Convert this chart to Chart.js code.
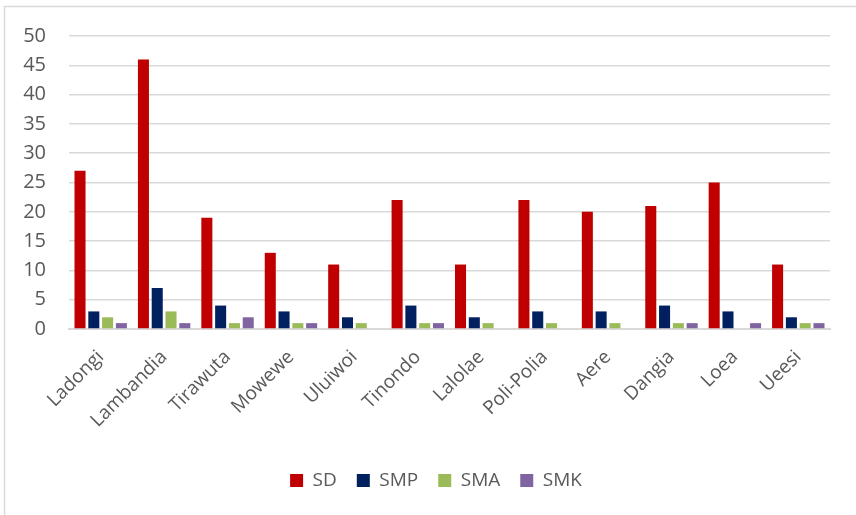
<!DOCTYPE html>
<html>
<head>
<meta charset="utf-8">
<script src="https://cdn.jsdelivr.net/npm/chart.js@4.4.1/dist/chart.umd.min.js"></script>
<style>
  html, body { margin: 0; padding: 0; background: #fff; overflow: hidden; }
  #wrap { position: relative; width: 856px; height: 515px; }
</style>
</head>
<body>
<div id="wrap"><canvas id="chart" width="856" height="515"></canvas></div>
<script>
  // Categories (districts) and series values
  var districts = ['Ladongi', 'Lambandia', 'Tirawuta', 'Mowewe', 'Uluiwoi', 'Tinondo',
    'Lalolae', 'Poli-Polia', 'Aere', 'Dangia', 'Loea', 'Ueesi'];
  var sdValues  = [27, 46, 19, 13, 11, 22, 11, 22, 20, 21, 25, 11];
  var smpValues = [3, 7, 4, 3, 2, 4, 2, 3, 3, 4, 3, 2];
  var smaValues = [2, 3, 1, 1, 1, 1, 1, 1, 1, 1, 0, 1];
  var smkValues = [1, 1, 2, 1, 0, 1, 0, 0, 0, 1, 1, 1];
  var yTicks = [0, 5, 10, 15, 20, 25, 30, 35, 40, 45, 50];

  var textColor = '#595959';
  var gridColor = '#d9d9d9';

  // light outer frame like the exported office chart
  var framePlugin = {
    id: 'frame',
    beforeDraw: function (chart) {
      var ctx = chart.ctx;
      ctx.save();
      ctx.fillStyle = '#ffffff';
      ctx.fillRect(0, 0, chart.width, chart.height);
      ctx.strokeStyle = gridColor;
      ctx.lineWidth = 1.5;
      ctx.strokeRect(4.5, 6.5, chart.width + 20, chart.height + 20);
      ctx.restore();
    }
  };

  function series(label, data, color) {
    return {
      label: label,
      data: data,
      backgroundColor: color,
      borderWidth: 0,
      categoryPercentage: 0.87,
      barPercentage: 0.8
    };
  }

  new Chart(document.getElementById('chart'), {
    type: 'bar',
    data: {
      labels: districts,
      datasets: [
        series('SD', sdValues, '#C00000'),
        series('SMP', smpValues, '#002060'),
        series('SMA', smaValues, '#9BBB59'),
        series('SMK', smkValues, '#8064A2')
      ]
    },
    plugins: [framePlugin],
    options: {
      responsive: false,
      animation: false,
      // left padding keeps the legend centred where the original has it
      layout: { padding: { top: 36, right: 0, bottom: 15, left: 16 } },
      plugins: {
        legend: {
          position: 'bottom',
          labels: {
            color: textColor,
            font: { family: 'Open Sans', size: 19 },
            boxWidth: 13,
            boxHeight: 13,
            padding: 20
          }
        },
        tooltip: { enabled: false }
      },
      scales: {
        x: {
          afterFit: function (scale) { scale.height = 122; },
          ticks: {
            color: textColor,
            font: { family: 'Open Sans', size: 19 },
            minRotation: 45,
            maxRotation: 45,
            autoSkip: false,
            padding: 17
          },
          grid: { display: false, drawTicks: false },
          border: { color: gridColor, width: 2 }
        },
        y: {
          min: 0,
          max: 50,
          afterFit: function (scale) { scale.width = 53; },
          afterBuildTicks: function (scale) {
            scale.ticks = yTicks.map(function (v) { return { value: v }; });
          },
          ticks: {
            color: textColor,
            font: { family: 'Open Sans', size: 20 },
            padding: 23
          },
          grid: { color: gridColor, lineWidth: 1.5, drawTicks: false },
          border: { display: false }
        },
        // empty spacer on the right, so the plot ends where the original does
        spacer: {
          position: 'right',
          min: 0,
          max: 50,
          afterFit: function (scale) { scale.width = 26; },
          ticks: { display: false },
          grid: { display: false, drawTicks: false },
          border: { display: false }
        }
      }
    }
  });
</script>
</body>
</html>
